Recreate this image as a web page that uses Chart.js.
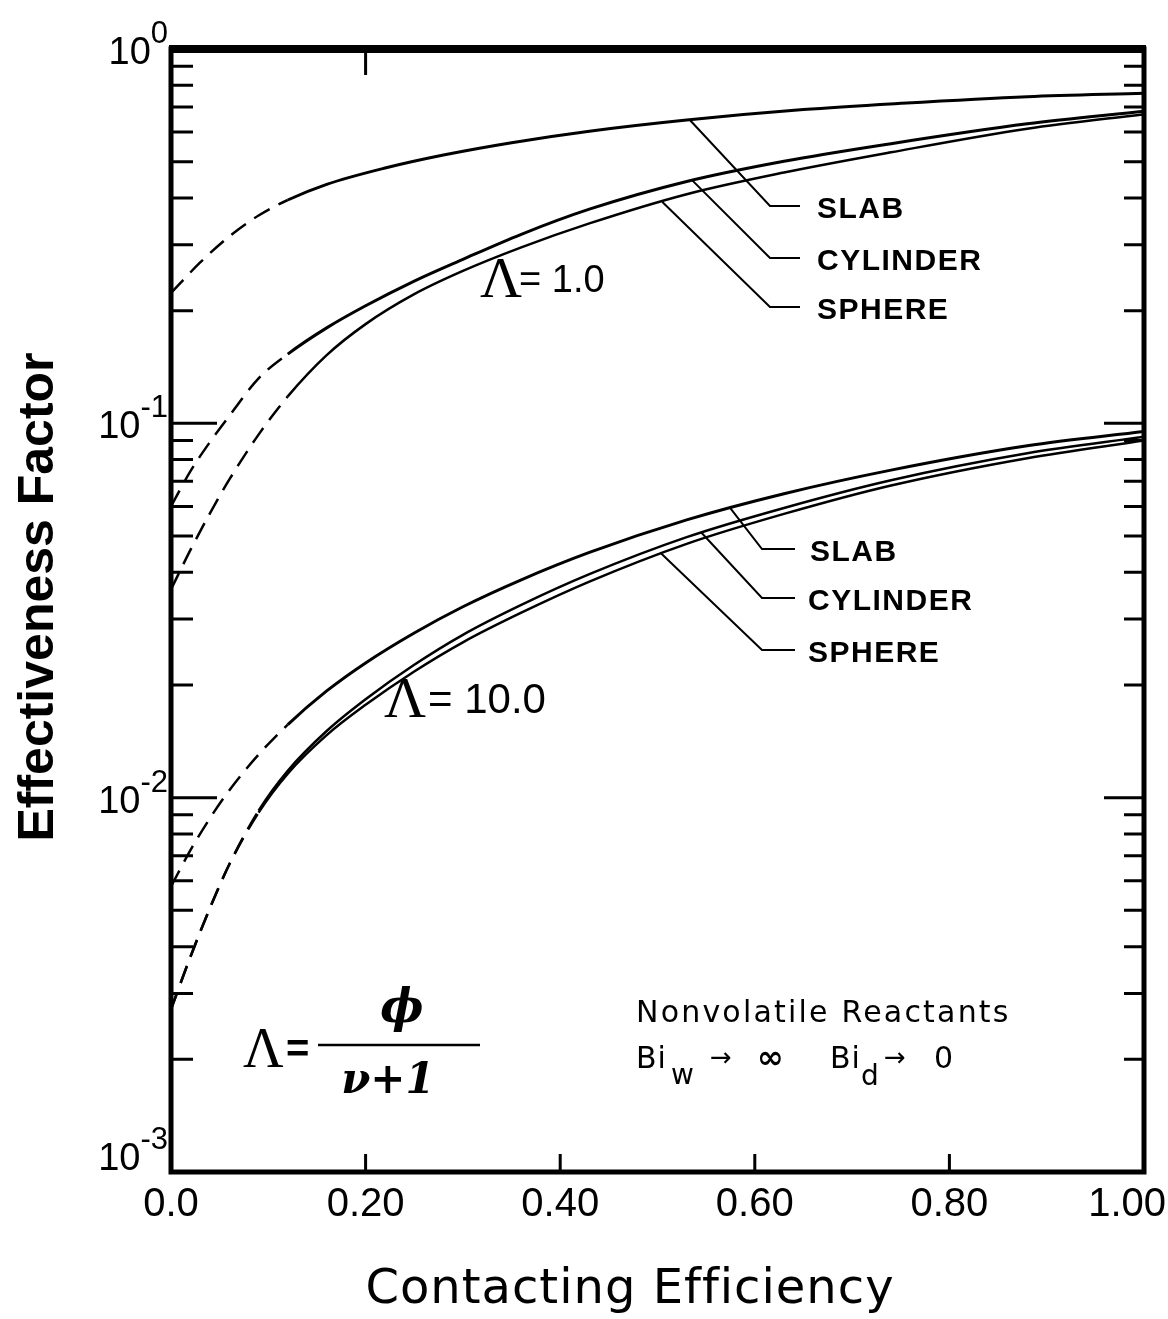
<!DOCTYPE html>
<html>
<head>
<meta charset="utf-8">
<script src="https://cdn.jsdelivr.net/npm/chart.js@4.4.1/dist/chart.umd.min.js"></script>
<style>
  html, body { margin: 0; padding: 0; background: #fff; }
  #wrap { width: 1168px; height: 1319px; position: relative; }
</style>
</head>
<body>
<div id="wrap"><canvas id="effChart"></canvas></div>
<script>
// Effectiveness factor vs contacting efficiency
const effX = [0, 0.02, 0.04, 0.06, 0.09, 0.12, 0.16, 0.2, 0.25, 0.3, 0.36, 0.43, 0.53, 0.63, 0.74, 0.88, 1.0];

// Lambda = 1.0
const lam1SlabX = [0, 0.03, 0.06, 0.09, 0.12, 0.16, 0.22, 0.28, 0.35, 0.43, 0.53, 0.65, 0.75, 0.88, 1.0];
const lam1SlabY = [0.223, 0.269, 0.316, 0.359, 0.395, 0.435, 0.481, 0.521, 0.562, 0.603, 0.646, 0.689, 0.716, 0.746, 0.762];
const lam1CylY = [0.0600, 0.0745, 0.0891, 0.1047, 0.1318, 0.1531, 0.1799, 0.2061, 0.2399, 0.2742, 0.3199, 0.3733, 0.4426, 0.5012, 0.5585, 0.6310, 0.6823];
const lam1SphY = [0.0360, 0.0459, 0.0575, 0.0708, 0.0933, 0.1180, 0.1521, 0.1841, 0.2213, 0.2553, 0.2951, 0.3420, 0.4093, 0.4677, 0.5297, 0.6124, 0.6699];

// Lambda = 10.0
const lam10SlabY = [0.00579, 0.00724, 0.00881, 0.01047, 0.01303, 0.01567, 0.01928, 0.02291, 0.02754, 0.03236, 0.03819, 0.04519, 0.05521, 0.06486, 0.07499, 0.08710, 0.09506];
const lam10CylY = [0.00272, 0.00376, 0.00507, 0.00664, 0.00923, 0.01180, 0.01507, 0.01832, 0.02265, 0.02723, 0.03273, 0.03954, 0.04966, 0.05943, 0.07047, 0.08318, 0.09204];
const lam10SphY = [0.00272, 0.00376, 0.00507, 0.00664, 0.00912, 0.01159, 0.01469, 0.01770, 0.02173, 0.02600, 0.03119, 0.03776, 0.04764, 0.05728, 0.06823, 0.08072, 0.08995];

// x where each curve turns from dashed (extrapolated) to solid
const lam1SolidFrom = [0.12, 0.12, 0.12];
const lam10SolidFrom = [0.12, 0.09, 0.09];

// ticks
const xTicks = [0, 0.2, 0.4, 0.6, 0.8, 1.0];
const xTickLabels = ['0.0', '0.20', '0.40', '0.60', '0.80', '1.00'];
const yDecades = [1, 0.1, 0.01, 0.001];
const yExponents = ['0', '-1', '-2', '-3'];

// leader arrows: tip on the curve (data coords)
const lam1TipsX = [0.533, 0.536, 0.505];
const lam1TipsY = [0.647, 0.445, 0.390];
const lam10TipsX = [0.575, 0.545, 0.503];
const lam10TipsY = [0.0593, 0.0511, 0.0451];
const shapeNames = ['SLAB', 'CYLINDER', 'SPHERE'];

function pts(xs, ys) {
    return xs.map((v, i) => ({ x: v, y: ys[i] }));
}

function curve(xs, ys, solidFrom, width) {
    const dashed = c => c.p1.parsed.x <= solidFrom + 1e-9;
    return {
        data: pts(xs, ys),
        borderColor: '#000',
        borderWidth: width,
        pointRadius: 0,
        cubicInterpolationMode: 'monotone',
        fill: false,
        segment: {
            borderDash: c => dashed(c) ? [18, 10] : undefined,
            borderWidth: c => dashed(c) ? 2.5 : width
        }
    };
}

const SANS = '"Liberation Sans", Arial, sans-serif';

function txt(ctx, s, x, y, font, align, spacing) {
    ctx.font = font;
    ctx.textAlign = align || 'left';
    ctx.letterSpacing = spacing || '0px';
    ctx.fillText(s, x, y);
    ctx.letterSpacing = '0px';
}

const paperPlugin = {
    id: 'paper',
    afterDatasetsDraw(chart) {
        const { ctx, chartArea: a, scales: { x, y } } = chart;
        ctx.save();
        ctx.strokeStyle = '#000';
        ctx.fillStyle = '#000';
        ctx.textBaseline = 'alphabetic';

        // inward ticks
        ctx.lineWidth = 3;
        ctx.beginPath();
        [0.1, 0.01, 0.001].forEach(b => {
            for (let m = 2; m <= 9; m++) {
                const py = y.getPixelForValue(b * m);
                ctx.moveTo(a.left, py); ctx.lineTo(a.left + 22, py);
                ctx.moveTo(a.right, py); ctx.lineTo(a.right - 20, py);
            }
        });
        [0.1, 0.01].forEach(v => {
            const py = y.getPixelForValue(v);
            ctx.moveTo(a.left, py); ctx.lineTo(a.left + 46, py);
            ctx.moveTo(a.right, py); ctx.lineTo(a.right - 40, py);
        });
        xTicks.slice(1, -1).forEach(v => {
            const px = x.getPixelForValue(v);
            ctx.moveTo(px, a.bottom); ctx.lineTo(px, a.bottom - 18);
        });
        const topTick = x.getPixelForValue(xTicks[1]);
        ctx.moveTo(topTick, a.top); ctx.lineTo(topTick, a.top + 26);
        ctx.stroke();

        // frame
        ctx.lineWidth = 5;
        ctx.strokeRect(a.left, a.top, a.width, a.height);
        ctx.lineWidth = 8;
        ctx.beginPath();
        ctx.moveTo(a.left - 2, a.top); ctx.lineTo(a.right + 2, a.top);
        ctx.stroke();

        // tick labels
        ctx.font = '40px ' + SANS;
        xTicks.forEach((v, i) => {
            const w = ctx.measureText(xTickLabels[i]).width;
            const px = Math.min(x.getPixelForValue(v), chart.width - 2 - w / 2);
            txt(ctx, xTickLabels[i], px, a.bottom + 44, '40px ' + SANS, 'center');
        });
        yDecades.forEach((v, i) => {
            const py = y.getPixelForValue(v);
            const base = Math.min(py + 15, a.bottom - 2);
            ctx.font = '31px ' + SANS;
            const ew = ctx.measureText(yExponents[i]).width;
            txt(ctx, yExponents[i], a.left - 3, base - 21, '31px ' + SANS, 'right');
            txt(ctx, '10', a.left - 3 - ew, base, '38px ' + SANS, 'right');
        });

        // axis titles
        txt(ctx, 'Contacting Efficiency', 630, 1303, '48px "DejaVu Sans", sans-serif', 'center', '1px');
        ctx.save();
        ctx.translate(53, 597);
        ctx.rotate(-Math.PI / 2);
        txt(ctx, 'Effectiveness Factor', 0, 0, 'bold 50px ' + SANS, 'center');
        ctx.restore();

        // leader lines and labels
        ctx.lineWidth = 2;
        const groups = [
            { tx: lam1TipsX, ty: lam1TipsY, rows: [206, 258, 307], bend: 770, end: 800, textX: [817, 817, 817] },
            { tx: lam10TipsX, ty: lam10TipsY, rows: [549, 598, 650], bend: 762, end: 795, textX: [810, 808, 808] }
        ];
        groups.forEach(g => {
            g.tx.forEach((tv, i) => {
                const px = x.getPixelForValue(tv);
                const py = y.getPixelForValue(g.ty[i]);
                ctx.beginPath();
                ctx.moveTo(px, py);
                ctx.lineTo(g.bend, g.rows[i]);
                ctx.lineTo(g.end, g.rows[i]);
                ctx.stroke();
                txt(ctx, shapeNames[i], g.textX[i], g.rows[i] + 12, 'bold 30px ' + SANS, 'left', '1.5px');
            });
        });

        // Lambda labels
        txt(ctx, '\u039B', 480, 297, '58px "Liberation Serif", serif');
        txt(ctx, '= 1.0', 519, 292, '38px ' + SANS);
        txt(ctx, '\u039B', 384, 717, '58px "Liberation Serif", serif');
        txt(ctx, '= 10.0', 428, 713, '42px ' + SANS);

        // formula
        txt(ctx, '\u039B', 243, 1067, '56px "Liberation Serif", serif');
        txt(ctx, '=', 286, 1062, 'bold 40px ' + SANS);
        ctx.lineWidth = 2.5;
        ctx.beginPath();
        ctx.moveTo(318, 1045); ctx.lineTo(480, 1045);
        ctx.stroke();
        txt(ctx, '\u03D5', 402, 1022, 'bold italic 46px "DejaVu Serif", serif', 'center');
        txt(ctx, '\u03BD+1', 388, 1093, 'bold italic 42px "DejaVu Serif", serif', 'center');

        // conditions
        txt(ctx, 'Nonvolatile Reactants', 636, 1022, '30px "DejaVu Sans", sans-serif', 'left', '2.2px');
        const f = '30px "DejaVu Sans", sans-serif';
        txt(ctx, 'Bi', 636, 1068, f, 'left', '1px');
        txt(ctx, 'w', 671, 1084, '28px "DejaVu Sans", sans-serif');
        txt(ctx, '\u2192', 710, 1066, '26px "DejaVu Sans", sans-serif');
        txt(ctx, '\u221E', 757, 1068, 'bold 32px "DejaVu Sans", sans-serif');
        txt(ctx, 'Bi', 830, 1068, f, 'left', '1px');
        txt(ctx, 'd', 861, 1085, '28px "DejaVu Sans", sans-serif');
        txt(ctx, '\u2192', 884, 1066, '26px "DejaVu Sans", sans-serif');
        txt(ctx, '0', 934, 1068, f);

        ctx.restore();
    }
};

new Chart(document.getElementById('effChart').getContext('2d'), {
    type: 'line',
    data: {
        datasets: [
            curve(lam1SlabX, lam1SlabY, lam1SolidFrom[0], 3),
            curve(effX, lam1CylY, lam1SolidFrom[1], 3),
            curve(effX, lam1SphY, lam1SolidFrom[2], 2.5),
            curve(effX, lam10SlabY, lam10SolidFrom[0], 3),
            curve(effX, lam10CylY, lam10SolidFrom[1], 2.5),
            curve(effX, lam10SphY, lam10SolidFrom[2], 2.5)
        ]
    },
    options: {
        responsive: true,
        maintainAspectRatio: false,
        animation: false,
        layout: { padding: { left: 171, top: 49, right: 24, bottom: 147 } },
        plugins: { legend: { display: false }, tooltip: { enabled: false } },
        scales: {
            x: { type: 'linear', min: 0, max: 1, display: false },
            y: { type: 'logarithmic', min: 0.001, max: 1, display: false }
        }
    },
    plugins: [paperPlugin]
});
</script>
</body>
</html>
